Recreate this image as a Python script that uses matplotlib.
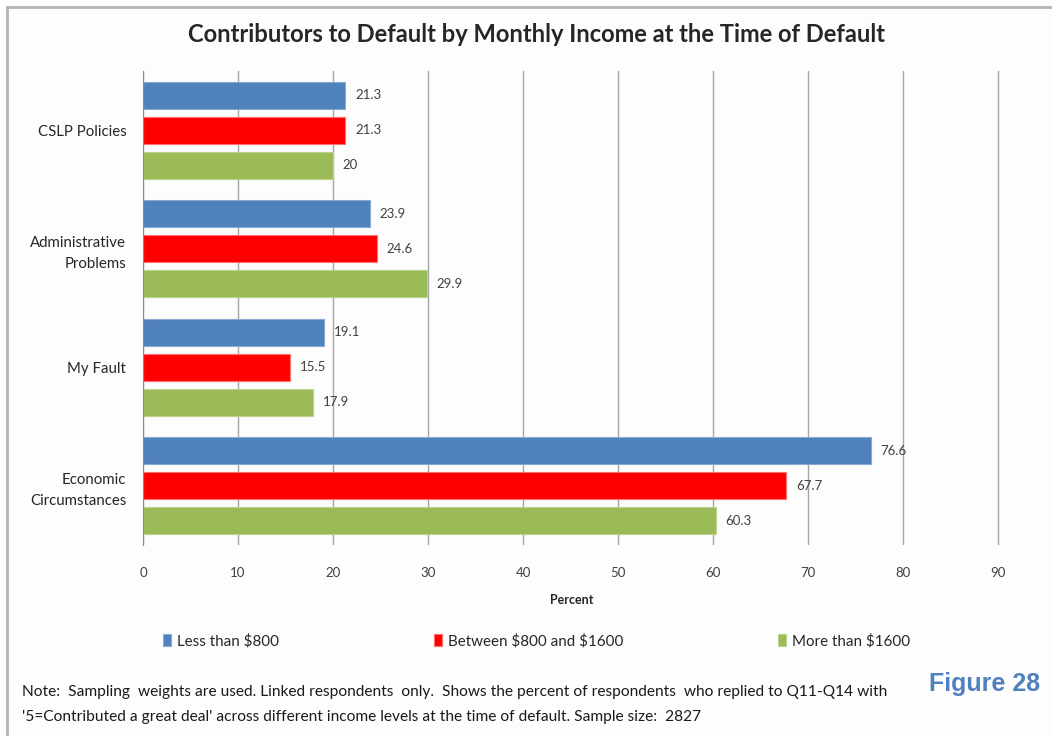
import matplotlib.pyplot as plt
import numpy as np
from matplotlib.lines import Line2D

categories = ['CSLP Policies', 'Administrative\nProblems', 'My Fault', 'Economic\nCircumstances']
series = [r'Less than \$800', r'Between \$800 and \$1600', r'More than \$1600']
less_800 = [21.3, 23.9, 19.1, 76.6]
mid_800_1600 = [21.3, 24.6, 15.5, 67.7]
more_1600 = [20, 29.9, 17.9, 60.3]
value_labels = [['21.3', '23.9', '19.1', '76.6'],
                ['21.3', '24.6', '15.5', '67.7'],
                ['20', '29.9', '17.9', '60.3']]
xticks = [0, 10, 20, 30, 40, 50, 60, 70, 80, 90]

colors = ['#4f81bd', '#ff0000', '#9bbb59']
edges = ['#87a9d4', '#ff7070', '#bcd38c']

plt.rcParams['font.family'] = ['Lato', 'DejaVu Sans']

fig = plt.figure(figsize=(10.52, 7.36), dpi=100)
fig.patch.set_facecolor('#fdfdfd')

# outer frame (runs off the right and bottom edge)
fig.add_artist(Line2D([7 / 1052, 7 / 1052], [0, 1 - 7 / 736], transform=fig.transFigure,
                      color='#b4b4b4', lw=2))
fig.add_artist(Line2D([7 / 1052, 1], [1 - 7 / 736, 1 - 7 / 736], transform=fig.transFigure,
                      color='#b4b4b4', lw=2))

ax = fig.add_axes([143 / 1052, (736 - 545) / 736, (1000 - 143) / 1052, (545 - 71) / 736])
ax.set_facecolor('#fdfdfd')

y = np.arange(len(categories))
step = 35 / 119
h = 27 / 119
data = [less_800, mid_800_1600, more_1600]
for i, vals in enumerate(data):
    pos = y + (i - 1) * step
    ax.barh(pos, vals, height=h, color=colors[i], edgecolor=edges[i], linewidth=0.8,
            label=series[i], zorder=3)
    for p, v, t in zip(pos, vals, value_labels[i]):
        ax.annotate(t, (v, p), xytext=(7, 0), textcoords='offset points',
                    va='center', ha='left', fontsize=9.5, color='#404040', zorder=4)

ax.set_xlim(0, 90.2)
ax.set_ylim(3.5, -0.5)
ax.set_xticks(xticks)
ax.set_yticks(y)
ax.set_yticklabels(categories, fontsize=10.8, color='#262626', linespacing=1.6)
ax.tick_params(axis='y', length=0, pad=12)
ax.tick_params(axis='x', length=0, pad=16, labelsize=9.5, labelcolor='#404040')
ax.grid(axis='x', color='#a6a6a6', lw=1, zorder=0)
for s in ['top', 'right', 'bottom']:
    ax.spines[s].set_visible(False)
ax.spines['left'].set_color('#8c8c8c')
ax.spines['left'].set_zorder(5)
ax.set_xlabel('Percent', fontsize=9, fontweight='bold', color='#262626', labelpad=11)

fig.text(537 / 1052, 1 - 35 / 736, 'Contributors to Default by Monthly Income at the Time of Default',
         ha='center', va='center', fontsize=17.1, fontweight='bold', color='#262626')

leg = fig.legend(loc='center left', bbox_to_anchor=(163 / 1052, 1 - 641 / 736), ncol=3,
                 frameon=False, fontsize=10.9, handlelength=0.55, handleheight=0.75,
                 handletextpad=0.4, columnspacing=10.2, borderaxespad=0, borderpad=0)
for t in leg.get_texts():
    t.set_color('#262626')

fig.text(22 / 1052, 1 - 692 / 736,
         "Note:  Sampling  weights are used. Linked respondents  only.  Shows the percent of respondents  who replied to Q11-Q14 with",
         ha='left', va='center', fontsize=11.2, color='#1a1a1a')
fig.text(22 / 1052, 1 - 717 / 736,
         "'5=Contributed a great deal' across different income levels at the time of default. Sample size:  2827",
         ha='left', va='center', fontsize=11.2, color='#1a1a1a')
fig.text(985 / 1052, 1 - 684 / 736, 'Figure 28', ha='center', va='center', fontsize=18,
         fontweight='bold', color='#4f81bd', family=['Liberation Sans', 'DejaVu Sans'])

fig.savefig('out.png', dpi=100, facecolor=fig.get_facecolor())
